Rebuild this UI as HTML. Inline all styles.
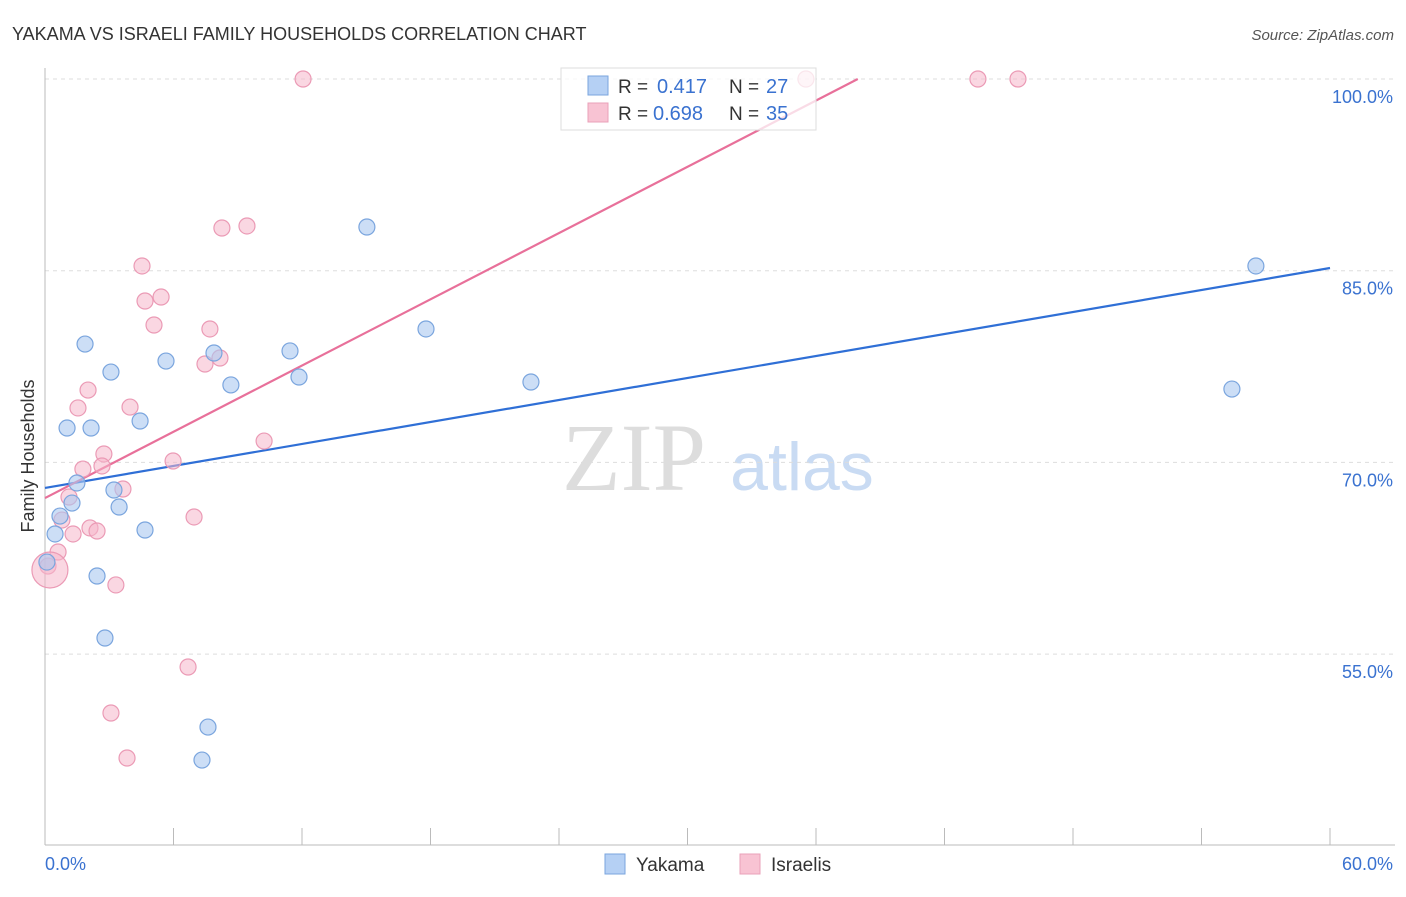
<!DOCTYPE html>
<html><head><meta charset="utf-8"><style>
body{margin:0;background:#fff;font-family:"Liberation Sans",sans-serif;}
</style></head><body>
<svg id="chart" width="1406" height="892" xmlns="http://www.w3.org/2000/svg">
<text x="12" y="40" font-size="18" fill="#333">YAKAMA VS ISRAELI FAMILY HOUSEHOLDS CORRELATION CHART</text>
<text x="1394" y="40" font-size="15" fill="#555" font-style="italic" text-anchor="end">Source: ZipAtlas.com</text>
<text x="634" y="490" font-size="96" fill="#ddd" font-family="Liberation Serif,serif" text-anchor="middle">ZIP</text>
<text x="802" y="490" font-size="68" fill="#c9dbf3" text-anchor="middle">atlas</text>
<text transform="translate(34,456) rotate(-90)" font-size="18" fill="#333" text-anchor="middle">Family Households</text>
<g id="grid"></g><g id="axes"></g>
<g id="lines"></g><g id="dots"></g>
<g>
<rect x="561" y="68" width="255" height="62" fill="#fff" fill-opacity="0.75" stroke="#ddd"/>
<rect x="588" y="76" width="20" height="19" fill="#b5d0f4" stroke="#7aa5de"/>
<rect x="588" y="103" width="20" height="19" fill="#f8c3d3" stroke="#eaa0b8"/>
<text x="618" y="93" font-size="19" fill="#333">R =</text>
<text x="657" y="93" font-size="20" fill="#3a72d0">0.417</text>
<text x="729" y="93" font-size="19" fill="#333">N =</text>
<text x="766" y="93" font-size="20" fill="#3a72d0">27</text>
<text x="618" y="120" font-size="19" fill="#333">R =</text>
<text x="653" y="120" font-size="20" fill="#3a72d0">0.698</text>
<text x="729" y="120" font-size="19" fill="#333">N =</text>
<text x="766" y="120" font-size="20" fill="#3a72d0">35</text>
</g>
<g>
<rect x="605" y="854" width="20" height="20" fill="#b5d0f4" stroke="#7aa5de"/>
<text x="636" y="871" font-size="19" fill="#333">Yakama</text>
<rect x="740" y="854" width="20" height="20" fill="#f8c3d3" stroke="#eaa0b8"/>
<text x="771" y="871" font-size="19" fill="#333">Israelis</text>
</g>
</svg>
<script>
const yTicks=[100,85,70,55];
const yTickLabels=["100.0%","85.0%","70.0%","55.0%"];
const xTickLabels=["0.0%","60.0%"];
const yakamaX=[15.03,56.54,1.87,3.08,5.65,7.89,8.68,11.44,11.86,17.79,22.69,55.42,1.03,2.15,4.44,1.49,1.26,3.22,3.46,0.70,0.47,4.67,0.09,2.43,2.80,7.61,7.33];
const yakamaY=[88.42,85.37,79.26,77.07,77.93,78.56,76.06,78.72,76.68,80.44,76.29,75.74,72.69,72.69,73.24,68.39,66.82,67.84,66.51,65.8,64.4,64.71,62.2,61.11,56.26,49.29,46.71];
const israelisX=[12.05,35.53,43.56,45.43,8.26,9.43,4.53,4.67,5.42,5.09,7.70,7.47,8.17,2.01,1.54,3.97,10.23,2.75,5.98,1.77,2.66,3.64,1.12,0.79,6.96,2.10,2.43,1.31,0.61,0.14,0.23,3.31,6.68,3.08,3.83];
const israelisY=[100,100,100,100,88.34,88.5,85.37,82.63,82.94,80.75,80.44,77.7,78.17,75.66,74.26,74.33,71.67,70.66,70.11,69.48,69.72,67.92,67.29,65.49,65.73,64.87,64.63,64.4,62.99,61.89,61.58,60.41,53.99,50.39,46.87];
const yakamaLine=[68.0,85.21];
const israelisLine=[67.21,0.864];
const NS="http://www.w3.org/2000/svg";
const X=v=>45+v*1285/60, Y=v=>79+(100-v)*12.78;
function mk(p,t,a){const e=document.createElementNS(NS,t);for(const k in a)e.setAttribute(k,a[k]);p.appendChild(e);return e;}
const grid=document.getElementById('grid'),axes=document.getElementById('axes');
yTicks.forEach((t,i)=>{
 const l=mk(grid,'line',{x1:45,x2:1395,y1:Y(t),y2:Y(t),stroke:'#ddd','stroke-dasharray':'4,4'});
 
 
 const tx=mk(axes,'text',{x:1393,y:Y(t)+24,'font-size':18,fill:'#3a72d0','text-anchor':'end'});
 tx.textContent=yTickLabels[i];
 
 
});
mk(axes,'line',{x1:45,x2:45,y1:68,y2:845,stroke:'#bbb'});
mk(axes,'line',{x1:45,x2:1395,y1:845,y2:845,stroke:'#bbb'});
for(let i=0;i<=10;i++){const x=X(i*6);mk(axes,'line',{x1:x,x2:x,y1:828,y2:845,stroke:'#bbb'});}
[[0,'start',45],[1,'end',1393]].forEach(([i,a,x])=>{
 const t=mk(axes,'text',{x:x,y:870,'font-size':18,fill:'#3a72d0','text-anchor':a});
 t.textContent=xTickLabels[i];
 
 
});
const lines=document.getElementById('lines');
const bl=mk(lines,'line',{x1:X(0),y1:Y(yakamaLine[0]),x2:X(60),y2:Y(yakamaLine[1]),stroke:'#2f6fd6','stroke-width':2.2});


const xe=(100-israelisLine[0])/israelisLine[1];
const pl=mk(lines,'line',{x1:X(0),y1:Y(israelisLine[0]),x2:X(xe),y2:Y(100),stroke:'#e8709a','stroke-width':2.2});


const dots=document.getElementById('dots');
israelisX.forEach((v,i)=>{
 const c=mk(dots,'circle',{cx:X(v),cy:Y(israelisY[i]),r:(i==30?18:8),fill:'rgba(246,182,203,0.55)',stroke:'#eb9ab5','stroke-width':1.2});
 
 
});
yakamaX.forEach((v,i)=>{
 const c=mk(dots,'circle',{cx:X(v),cy:Y(yakamaY[i]),r:8,fill:'rgba(170,200,240,0.6)',stroke:'#7aa5de','stroke-width':1.2});
 
 
});
</script>
</body></html>
